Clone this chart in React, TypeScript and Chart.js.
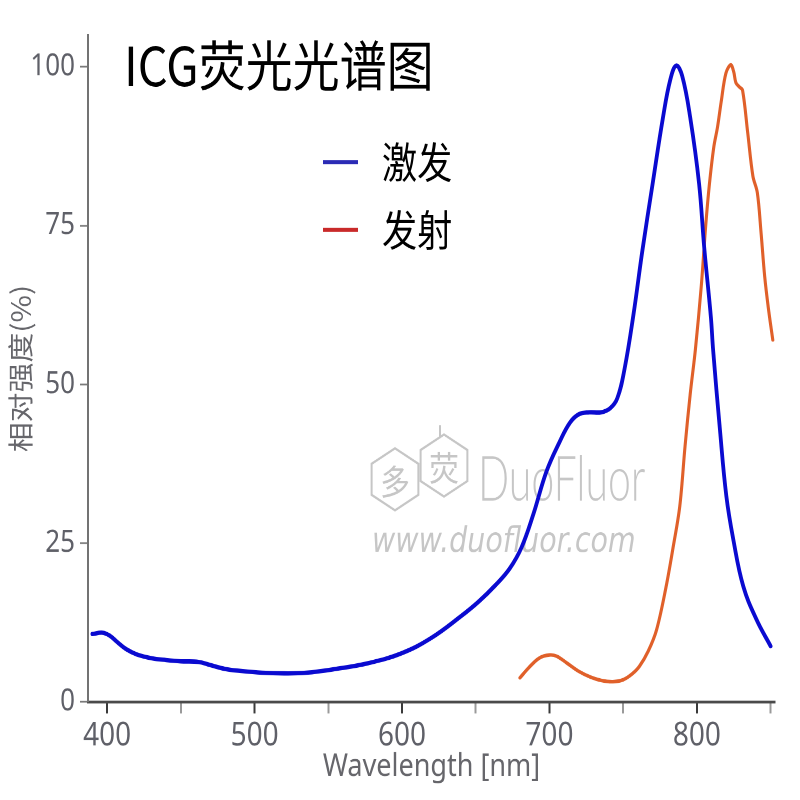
import React, { useEffect, useRef } from 'react';
import { Chart, registerables } from 'chart.js';

Chart.register(...registerables);

// ---- data ----
const excitationNm = [
  390, 397, 402, 407, 413, 420, 430, 440, 450, 462, 470, 480, 490, 505, 520, 535, 555, 577, 600, 620,
  640, 652, 663, 673, 681, 689, 698, 707, 714, 720, 727, 735, 741, 746, 751, 757, 763, 770, 777, 782,
  786, 790, 795.5, 801.5, 805, 809.5, 811, 815.6, 820, 824.7, 831.5, 840.6, 850,
];
const excitationPct = [
  10.7, 10.9, 10.4, 9.4, 8.3, 7.5, 6.9, 6.6, 6.4, 6.3, 5.8, 5.2, 4.9, 4.6, 4.5, 4.6, 5.2, 6.1, 7.7, 10.1,
  13.5, 15.8, 18.3, 21.0, 24.3, 29.5, 36.3, 41.0, 44.0, 45.3, 45.6, 45.6, 46.2, 47.8, 52.5, 61, 71, 81.6, 92, 98,
  100.2, 98.6, 92, 81.6, 71.5, 60.6, 55.5, 43, 32.4, 25.6, 18.2, 12.9, 8.8,
];
const emissionNm = [
  680, 686, 693, 700, 705, 712, 720, 728, 735, 743, 750, 756, 761, 767, 772.6, 779, 784, 788.4, 792, 795.5,
  799, 803, 806, 808.5, 811.5, 814, 816.5, 819.7, 823, 825, 826.5, 829, 831, 834.5, 838, 841, 843.5, 846, 848.5, 851.5,
];
const emissionPct = [
  3.8, 5.4, 6.9, 7.4, 7.2, 6.1, 4.8, 3.9, 3.4, 3.2, 3.5, 4.4, 5.6, 8.0, 11.3, 18.0, 24.5, 30.8, 40.3, 48.5,
  55.5, 65.5, 75, 81.5, 87.4, 90.5, 94.5, 99, 100.3, 99.2, 97.5, 96.8, 96.3, 89.6, 82.8, 80.2, 74, 67, 62, 57,
];
const xTickValues = [400, 450, 500, 550, 600, 650, 700, 750, 800, 850];
const xLabelValues = [400, 500, 600, 700, 800];
const yTickValues = [0, 25, 50, 75, 100];

const seriesNames = ['激发', '发射'];
const chartTitle = 'ICG荧光光谱图';
const xTitle = 'Wavelength [nm]';
const yTitle = '相对强度(%)';

// ---- styling ----
const W = 800;
const H = 696;
const SY = 800 / H;
const SANS = '"Noto Sans", "Open Sans", sans-serif';
const CJK = '"Noto Sans CJK SC", "Noto Sans", sans-serif';
const BLUE = '#0a0ad0';
const ORANGE = '#e0602a';

function drawText(
  ctx: CanvasRenderingContext2D,
  text: string,
  x: number,
  y: number,
  font: string,
  color: string,
  sx = 1,
  align: CanvasTextAlign = 'left'
) {
  ctx.save();
  ctx.translate(x, y);
  ctx.scale(sx, 1);
  ctx.font = font;
  ctx.fillStyle = color;
  ctx.textAlign = align;
  ctx.textBaseline = 'middle';
  ctx.fillText(text, 0, 0);
  ctx.restore();
}

function hexagon(ctx: CanvasRenderingContext2D, cx: number, cy: number, r: number) {
  ctx.beginPath();
  for (let i = 0; i < 6; i++) {
    const a = Math.PI / 6 + (i * Math.PI) / 3;
    const px = cx + r * Math.cos(a);
    const py = cy + r * Math.sin(a);
    if (i === 0) ctx.moveTo(px, py);
    else ctx.lineTo(px, py);
  }
  ctx.closePath();
  ctx.stroke();
}

const decorPlugin = {
  id: 'decor',
  beforeDatasetsDraw(chart: any) {
    const ctx: CanvasRenderingContext2D = chart.ctx;
    const wm = '#c6c6c6';
    ctx.save();
    ctx.strokeStyle = wm;
    ctx.lineWidth = 2;
    hexagon(ctx, 395, 417, 27);
    hexagon(ctx, 444, 405, 27);
    ctx.beginPath();
    ctx.moveTo(440, 370);
    ctx.lineTo(440, 380);
    ctx.stroke();
    ctx.restore();
    drawText(ctx, '多', 395, 419, `30px ${CJK}`, wm, 1, 'center');
    drawText(ctx, '荧', 444, 407, `30px ${CJK}`, wm, 1, 'center');
    drawText(ctx, 'DuoFluor', 478, 418, `300 54px Lato, ${SANS}`, wm, 0.76);
    drawText(ctx, 'www.duofluor.com', 372, 472, `italic 30px "DejaVu Sans", ${SANS}`, wm, 0.95);
  },
  afterDraw(chart: any) {
    const ctx: CanvasRenderingContext2D = chart.ctx;
    // title
    drawText(ctx, chartTitle, 124, 57, `47px ${CJK}`, '#000', 1.0);
    // legend
    const items = [
      { label: seriesNames[0], color: '#2b2bb5', y: 141 },
      { label: seriesNames[1], color: '#c92a2a', y: 200 },
    ];
    items.forEach((it) => {
      ctx.save();
      ctx.strokeStyle = it.color;
      ctx.lineWidth = 3.5;
      ctx.beginPath();
      ctx.moveTo(323, it.y);
      ctx.lineTo(358, it.y);
      ctx.stroke();
      ctx.restore();
      drawText(ctx, it.label, 382, it.y, `37px ${CJK}`, '#000', 0.95);
    });
  },
};

export default function App() {
  const ref = useRef<HTMLCanvasElement>(null);

  useEffect(() => {
    if (!ref.current) return;
    const excitation = excitationNm.map((x, i) => ({ x, y: excitationPct[i] }));
    const emission = emissionNm.map((x, i) => ({ x, y: emissionPct[i] }));
    const chart = new Chart(ref.current, {
      type: 'line',
      data: {
        datasets: [
          {
            label: seriesNames[0],
            data: excitation,
            borderColor: BLUE,
            borderWidth: 3.8,
            pointRadius: 0,
            tension: 0.4,
            borderJoinStyle: 'round',
            borderCapStyle: 'round',
            fill: false,
          },
          {
            label: seriesNames[1],
            data: emission,
            borderColor: ORANGE,
            borderWidth: 3.1,
            pointRadius: 0,
            tension: 0.35,
            borderJoinStyle: 'round',
            borderCapStyle: 'round',
            fill: false,
          },
        ],
      },
      options: {
        animation: false,
        responsive: false,
        devicePixelRatio: 2,
        layout: { padding: { top: 30.5, right: 25, left: 0, bottom: 0 } },
        plugins: {
          legend: { display: false },
          tooltip: { enabled: false },
          title: { display: false },
        },
        scales: {
          x: {
            type: 'linear',
            min: 387,
            max: 853,
            afterBuildTicks: (s: any) => {
              s.ticks = xTickValues.map((v) => ({ value: v }));
            },
            afterFit: (s: any) => {
              s.height = 85.3;
            },
            grid: {
              display: true,
              drawOnChartArea: false,
              drawTicks: true,
              tickLength: 10,
              tickWidth: 2,
              tickColor: (c: any) => (c.tick && c.tick.value % 100 === 0 ? '#3a3a3a' : '#9a9a9a'),
            },
            border: { display: true, color: '#4a4a4a', width: 2.5 },
            ticks: {
              autoSkip: false,
              maxRotation: 0,
              padding: 3,
              color: '#5f6068',
              font: { family: SANS, size: 28 },
              callback: (v: any) => (xLabelValues.includes(Number(v)) ? String(v) : ''),
            },
            title: {
              display: true,
              text: xTitle,
              color: '#66666b',
              font: { family: SANS, size: 27 },
              padding: { top: 0, bottom: 12.5 },
            },
          },
          y: {
            type: 'linear',
            min: 0,
            max: 105,
            afterBuildTicks: (s: any) => {
              s.ticks = yTickValues.map((v) => ({ value: v }));
            },
            afterFit: (s: any) => {
              s.width = 88;
            },
            grid: {
              display: true,
              drawOnChartArea: false,
              drawTicks: true,
              tickLength: 8,
              tickWidth: 1.5,
              tickColor: '#7a7a7a',
            },
            border: { display: true, color: '#737373', width: 2 },
            ticks: {
              padding: 5,
              color: '#5f6068',
              font: { family: SANS, size: 26 },
              callback: (v: any) => String(v),
            },
            title: {
              display: true,
              text: yTitle,
              color: '#66666b',
              font: { family: CJK, size: 26 },
              padding: { top: 5, bottom: 0 },
            },
          },
        },
      },
      plugins: [decorPlugin],
    } as any);
    return () => chart.destroy();
  }, []);

  return (
    <div
      style={{
        position: 'absolute',
        left: 0,
        top: 0,
        width: 800,
        height: 800,
        overflow: 'hidden',
        background: '#fff',
      }}
    >
      <div style={{ width: W, height: H, transform: `scaleY(${SY})`, transformOrigin: '0 0' }}>
        <canvas ref={ref} width={W} height={H} style={{ width: W, height: H, display: 'block' }} />
      </div>
    </div>
  );
}
